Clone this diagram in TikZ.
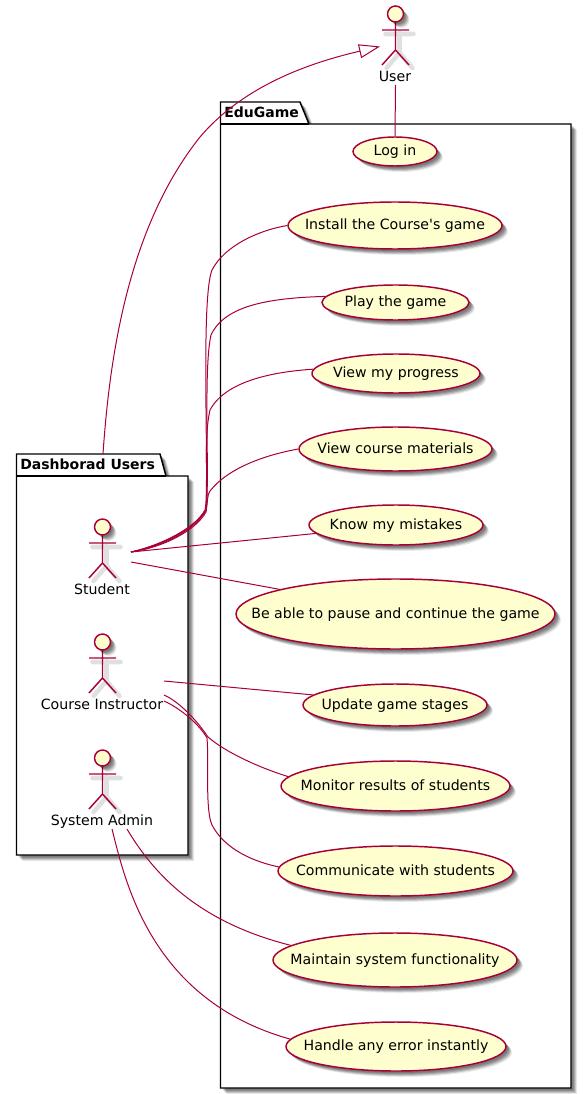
\documentclass[tikz,border=0pt]{standalone}
\usepackage{fontspec}
\setmainfont{DejaVu Sans}[Ligatures=TeXOff]
\usetikzlibrary{shapes.geometric,shadows,arrows.meta}
\definecolor{umlline}{HTML}{A80036}
\definecolor{umlfill}{HTML}{FEFECE}
\tikzset{
  softshadow/.style={
    drop shadow={shadow xshift=1.5pt,shadow yshift=-1.5pt,fill=black,opacity=.12},
    drop shadow={shadow xshift=2.25pt,shadow yshift=-2.25pt,fill=black,opacity=.16},
    drop shadow={shadow xshift=3pt,shadow yshift=-3pt,fill=black,opacity=.16},
    drop shadow={shadow xshift=3.75pt,shadow yshift=-3.75pt,fill=black,opacity=.14},
    drop shadow={shadow xshift=4.5pt,shadow yshift=-4.5pt,fill=black,opacity=.08}},
  usecasetext/.style={font=\fontsize{10.6pt}{12pt}\selectfont,inner sep=0pt,text height=8pt,text depth=2pt},
  usecase/.style n args={3}{ellipse,draw=umlline,fill=umlfill,line width=1.1pt,inner sep=0pt,softshadow,
    minimum width=#1,minimum height=#2,label={[usecasetext]center:{#3}}},
  link/.style={draw=umlline,line width=.75pt},
  pkg/.style={draw=black,fill=white,line width=1.1pt,softshadow},
  pkgtitle/.style={font=\bfseries\fontsize{10.5pt}{12pt}\selectfont,inner sep=0pt,anchor=west},
  actorname/.style={font=\fontsize{10.6pt}{12pt}\selectfont,inner sep=0pt,text height=8pt,text depth=2pt},
  actorhead/.style={circle,draw=umlline,fill=umlfill,line width=1.1pt,minimum size=12pt,inner sep=0pt,softshadow},
  actorbody/.style={draw=umlline,line width=1.1pt},
  actorshade/.style={draw=black!12,line width=3.4pt,line cap=round}
}
\newcommand{\umlactor}[4]{%
  \draw[actorshade] (#2+4,#3+19)--(#2+4,#3+39) (#2-10,#3+20)--(#2+18,#3+20) (#2-9,#3+54)--(#2+4,#3+39)--(#2+17,#3+54);
  \draw[actorbody] (#2,#3+8)--(#2,#3+36) (#2-13.5,#3+16)--(#2+13.5,#3+16) (#2-13.5,#3+51)--(#2,#3+36)--(#2+13.5,#3+51);
  \node[actorhead] (#1) at (#2,#3) {};
  \node[actorname] (#1label) at (#2-.5,#3+63.5) {#4};
}
\begin{document}
\begin{tikzpicture}[x=.75pt,y=-.75pt]
\useasboundingbox (0,0) rectangle (587,1094);
% packages
\draw[pkg] (220.5,124) -- (220.5,102) -- (300,102) -- (309,124) -- (571,124) -- (571,1088) -- (220.5,1088) -- cycle;
\draw[black,line width=1.1pt] (220.5,124) -- (309,124);
\node[pkgtitle] (edugame) at (224,112.5) {EduGame};
\draw[pkg] (16.5,476) -- (16.5,454) -- (160,454) -- (166,476) -- (188,476) -- (188,855) -- (16.5,855) -- cycle;
\draw[black,line width=1.1pt] (16.5,476) -- (166,476);
\node[pkgtitle] (dash) at (20,464.5) {Dashborad Users};
% actors
\umlactor{user}{395.5}{14}{User}
\umlactor{student}{102.5}{527}{Student}
\umlactor{instr}{102.5}{642}{Course Instructor}
\umlactor{admin}{102.5}{758}{System Admin}
% use cases
\node[usecase={63pt}{21.75pt}{Log in}] (login) at (395,151.5) {};
\node[usecase={160.5pt}{35.25pt}{Install the Course's game}] (install) at (395,225.5) {};
\node[usecase={110.25pt}{26.25pt}{Play the game}] (playg) at (395.5,302.5) {};
\node[usecase={126pt}{29.25pt}{View my progress}] (progress) at (396,373.5) {};
\node[usecase={144.75pt}{33pt}{View course materials}] (course) at (395.5,449) {};
\node[usecase={130.5pt}{30pt}{Know my mistakes}] (know) at (396,525) {};
\node[usecase={239.25pt}{52.5pt}{Be able to pause and continue the game}] (pause) at (395.5,614) {};
\node[usecase={138pt}{31.5pt}{Update game stages}] (update) at (395,705) {};
\node[usecase={171.75pt}{37.5pt}{Monitor results of students}] (monitor) at (395.5,786) {};
\node[usecase={176.25pt}{37.5pt}{Communicate with students}] (comm) at (395.5,871) {};
\node[usecase={183pt}{40.5pt}{Maintain system functionality}] (maintain) at (395,960) {};
\node[usecase={165pt}{36.75pt}{Handle any error instantly}] (handle) at (396,1046.5) {};
% free ends
\coordinate (dashtop) at (103,454);
\coordinate (usertip) at (380,46.5);
\coordinate (userout) at (395.5,85);
\coordinate (stuA) at (131,552);
\coordinate (stuB) at (131,562);
\coordinate (insA) at (164,681);
\coordinate (insB) at (164,695);
\coordinate (insC) at (164,701);
\coordinate (admA) at (127,829);
\coordinate (admB) at (112,829);
% connectors
\draw[link,-{Triangle[open,length=15.75pt,width=10.5pt]}] (dashtop) .. controls (110,350) and (130,225) .. (200,137) .. controls (240,90) and (300,65) .. (usertip);
\draw[link] (userout) -- (login.north);
\draw[link] (stuA) .. controls (165,545) and (195,528) .. (205,510) .. controls (210,490) and (200,300) .. (212,270) .. controls (225,245) and (260,230) .. (install.west);
\draw[link] (stuA) .. controls (165,544) and (195,527) .. (206,510) .. controls (210,480) and (203,370) .. (211,335) .. controls (225,305) and (270,298) .. (playg.175);
\draw[link] (stuA) .. controls (165,546) and (196,529) .. (206,510) .. controls (209,490) and (203,440) .. (210,410) .. controls (225,382) and (270,372) .. (progress.177);
\draw[link] (stuA) .. controls (165,547) and (196,530) .. (206,512) .. controls (208,500) and (207,495) .. (210,491) .. controls (228,468) and (265,455) .. (course.west);
\draw[link] (stuA) -- (know.186);
\draw[link] (stuB) -- (pause.168);
\draw[link] (insA) -- (update.173);
\draw[link] (insB) .. controls (180,702) and (198,722) .. (208,737) .. controls (225,752) and (260,768) .. (monitor.175);
\draw[link] (insC) .. controls (180,708) and (200,725) .. (207,738) .. controls (209,760) and (205,810) .. (212,825) .. controls (225,850) and (255,862) .. (comm.178);
\draw[link] (admA) .. controls (160,885) and (210,925) .. (maintain.172);
\draw[link] (admB) .. controls (125,880) and (150,1000) .. (handle.176);
\end{tikzpicture}
\end{document}
